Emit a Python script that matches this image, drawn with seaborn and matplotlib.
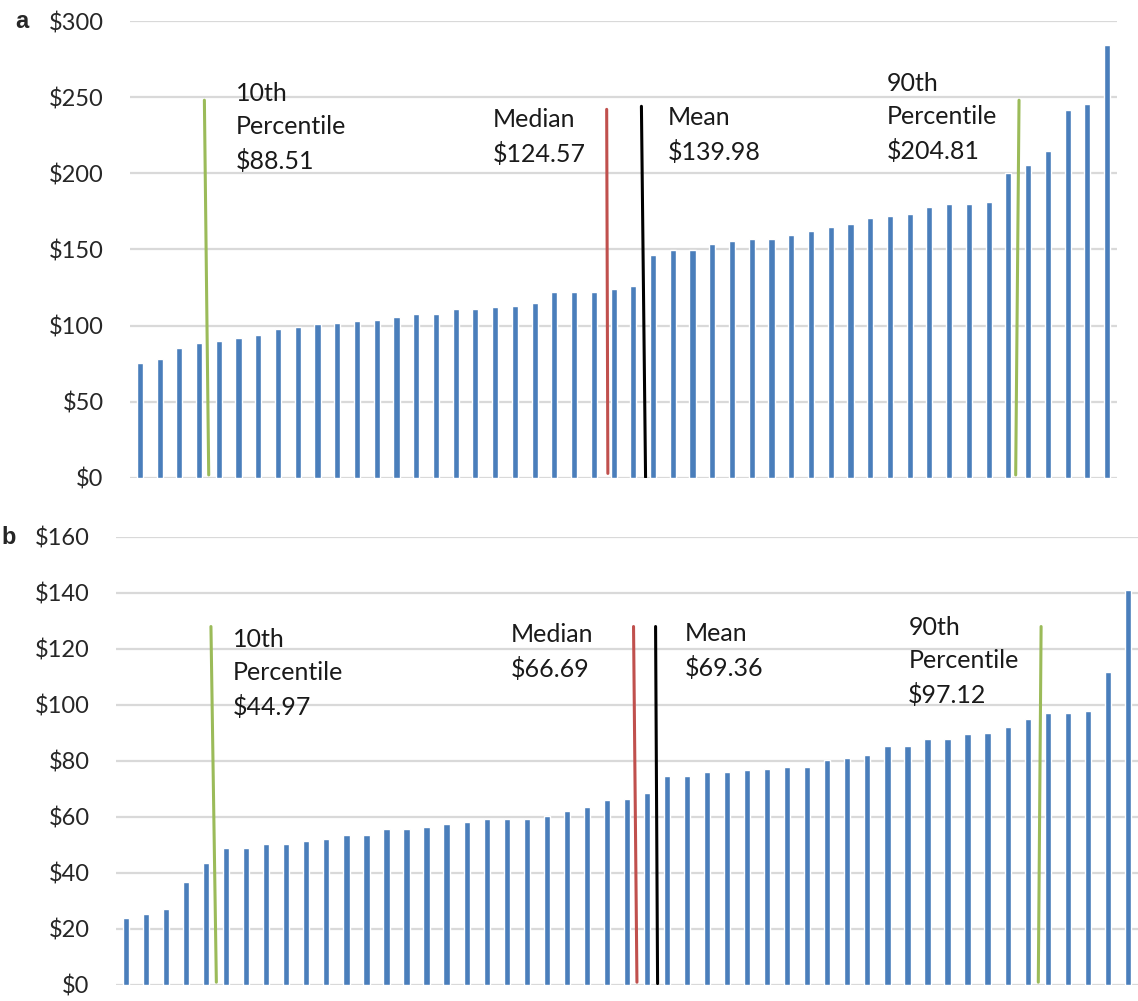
import pandas as pd
import matplotlib.pyplot as plt
import seaborn as sns

# Valores ordenados de cada panel
costs_a = [75.3, 78.4, 85.6, 88.6, 89.7, 91.7, 93.9, 97.8, 98.9, 100.9,
           102.0, 103.0, 103.9, 105.9, 107.9, 107.9, 110.9, 110.9, 112.0, 113.1,
           115.1, 122.0, 122.0, 122.0, 124.2, 126.2, 146.7, 149.8, 149.8, 153.7,
           155.9, 156.8, 156.8, 159.8, 162.0, 164.8, 167.0, 171.0, 172.0, 173.1,
           178.2, 180.1, 180.1, 181.2, 200.4, 205.7, 214.6, 241.3, 245.2, 284.3]
costs_b = [23.8, 25.5, 27.1, 36.8, 43.4, 49.0, 49.0, 50.2, 50.2, 51.3,
           52.3, 53.5, 53.5, 55.8, 55.8, 56.4, 57.6, 58.1, 59.1, 59.1,
           59.1, 60.3, 62.0, 63.6, 65.9, 66.5, 68.6, 74.8, 74.8, 76.0,
           76.0, 76.6, 77.2, 77.8, 77.8, 80.5, 81.1, 82.2, 85.5, 85.5,
           87.8, 87.8, 89.5, 90.1, 92.2, 95.1, 97.3, 97.3, 97.9, 111.8, 141.1]

stat_labels_a = ['10th\nPercentile\n$88.51', 'Median\n$124.57', 'Mean\n$139.98', '90th\nPercentile\n$204.81']
stat_labels_b = ['10th\nPercentile\n$44.97', 'Median\n$66.69', 'Mean\n$69.36', '90th\nPercentile\n$97.12']
stat_colors = ['#9bbb59', '#c0504d', '#000000', '#9bbb59']

# posicion de las lineas (en unidades de barra) arriba/abajo, y sus alturas
lines_a_top = [3.27, 23.65, 25.41, 44.54]
lines_a_bot = [3.49, 23.71, 25.62, 44.37]
lines_a_y = [(2, 248), (3, 242), (0.5, 244), (2, 248)]
lines_b_top = [4.24, 25.33, 26.43, 45.67]
lines_b_bot = [4.51, 25.50, 26.53, 45.53]
lines_b_y = [(1, 128), (1, 128), (0.5, 128), (1, 128)]

# posicion de los textos
text_a = [(4.86, 260), (17.87, 242.8), (26.75, 244), (37.84, 266.5)]
text_b = [(5.35, 127.5), (19.21, 129.3), (27.91, 129.7), (39.04, 131.8)]

yticks_a = [0, 50, 100, 150, 200, 250, 300]
yticks_b = [0, 20, 40, 60, 80, 100, 120, 140, 160]

sns.set_style('white')
plt.rcParams['font.family'] = ['Lato', 'DejaVu Sans']

fig = plt.figure(figsize=(11.38, 10.01), dpi=100)
ax_a = fig.add_axes([0.1142, 0.5225, 0.8673, 0.4565])
ax_b = fig.add_axes([0.1019, 0.016, 0.898, 0.4476])

panels = [
    (ax_a, costs_a, yticks_a, stat_labels_a, lines_a_top, lines_a_bot, lines_a_y, text_a),
    (ax_b, costs_b, yticks_b, stat_labels_b, lines_b_top, lines_b_bot, lines_b_y, text_b),
]

for ax, costs, yticks, labels, ltop, lbot, ly, tpos in panels:
    df = pd.DataFrame({'idx': range(len(costs)), 'cost': costs})
    sns.barplot(data=df, x='idx', y='cost', color='#4a7ebb', width=0.31,
                saturation=1, ax=ax)
    ax.set_xlim(-0.5, len(costs) - 0.5)
    ax.set_ylim(0, yticks[-1])
    ax.set_yticks(yticks)
    ax.set_yticklabels(['$' + str(t) for t in yticks], fontsize=17, color='#262626')
    ax.tick_params(axis='y', length=0, pad=19)
    ax.set_xticks([])
    ax.set_xlabel('')
    ax.set_ylabel('')
    ax.grid(axis='y', color='#d9d9d9', linewidth=1.6)
    ax.set_axisbelow(True)
    for s in ax.spines.values():
        s.set_visible(False)

    for lab, col, xt, xb, (y0, y1), (tx, ty) in zip(labels, stat_colors, ltop, lbot, ly, tpos):
        ax.plot([xb, xt], [y0, y1], color=col, linewidth=2.2, zorder=5)
        ax.text(tx, ty, lab, fontsize=18, va='top', ha='left', color='#1a1a1a',
                linespacing=1.55)

fig.text(0.013, 0.979, 'a', fontsize=17, fontweight='bold', family='Liberation Sans',
         va='center', ha='left')
fig.text(0.001, 0.4635, 'b', fontsize=17, fontweight='bold', family='Liberation Sans',
         va='center', ha='left')

fig.savefig('out.png', dpi=100)
